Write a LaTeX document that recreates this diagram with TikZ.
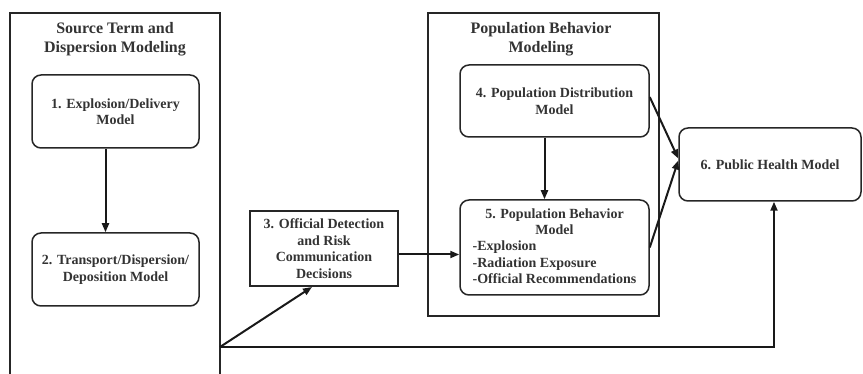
\documentclass[tikz,border=0pt]{standalone}
\usepackage{fontspec}
\setmainfont{Liberation Serif}
\usetikzlibrary{arrows.meta}
\tikzset{
  every node/.style={font=\bfseries\fontsize{14}{16.5}\selectfont, text=black!80, inner sep=0pt},
  model/.style={draw=black!85, line width=1.5pt, rounded corners=9pt, align=center},
  decision/.style={draw=black!85, line width=2pt, align=center},
  group/.style={draw=black!85, line width=2pt},
  grouptitle/.style={font=\bfseries\fontsize{16}{19.5}\selectfont, align=center},
  arr/.style={draw=black!90, line width=2pt, -{Triangle[length=9pt,width=7pt]}},
  link/.style={draw=black!90, line width=2pt},
}
\begin{document}
\begin{tikzpicture}[x=1pt,y=-1pt]
\useasboundingbox (0,0) rectangle (863,374);
% left group (open at the bottom edge of the picture)
\coordinate (gl1) at (10,375);
\coordinate (gl2) at (10,13);
\coordinate (gl3) at (220,13);
\coordinate (gl4) at (220,375);
\draw[group] (gl1) -- (gl2) -- (gl3) -- (gl4);
\node[grouptitle] (t1) at (115,39) {Source Term and\\Dispersion Modeling};
% population group
\node[group, minimum width=231pt, minimum height=303pt] (g2) at (543.5,164.5) {};
\node[grouptitle] (t2) at (541,39) {Population Behavior\\Modeling};
% boxes
\node[model, minimum width=167pt, minimum height=73pt] (b1) at (115.5,111.5) {1. Explosion/Delivery\\Model};
\node[model, minimum width=167pt, minimum height=73pt] (b2) at (115.5,269.5) {2. Transport/Dispersion/\\Deposition Model};
\node[decision, minimum width=148pt, minimum height=75pt] (b3) at (324,248.5) {3. Official Detection\\and Risk\\Communication\\Decisions};
\node[model, minimum width=189pt, minimum height=72pt] (b4) at (554.5,101) {4. Population Distribution\\Model};
\node[model, minimum width=189pt, minimum height=95pt] (b5) at (554.5,247.5) {\renewcommand{\arraystretch}{0.99}\begin{tabular}{@{}l@{}}\multicolumn{1}{@{}c@{}}{5. Population Behavior}\\\multicolumn{1}{@{}c@{}}{Model}\\-Explosion\\-Radiation Exposure\\-Official Recommendations\end{tabular}};
\node[model, minimum width=182pt, minimum height=73pt] (b6) at (770,164.5) {6. Public Health Model};
% connectors
\draw[arr] ([xshift=-10pt]b1.south) -- ([xshift=-10pt]b2.north);
\draw[arr] ([xshift=-10pt]b4.south) -- ([xshift=-10pt]b5.north);
\draw[arr] ([yshift=-6pt]b3.east) -- ([yshift=-6pt]b3.east -| b5.west);
\coordinate (src) at (220,347);
\coordinate (turn) at (774,347);
\draw[arr] (src) -- ([xshift=-12pt]b3.south);
\draw[arr] (src) -- (turn) -- (turn |- b6.south);
\draw[arr] ([yshift=4pt]b4.east) -- ([yshift=6pt]b6.west);
\draw[arr] (b5.east) -- ([yshift=4pt]b6.west);
\end{tikzpicture}
\end{document}
